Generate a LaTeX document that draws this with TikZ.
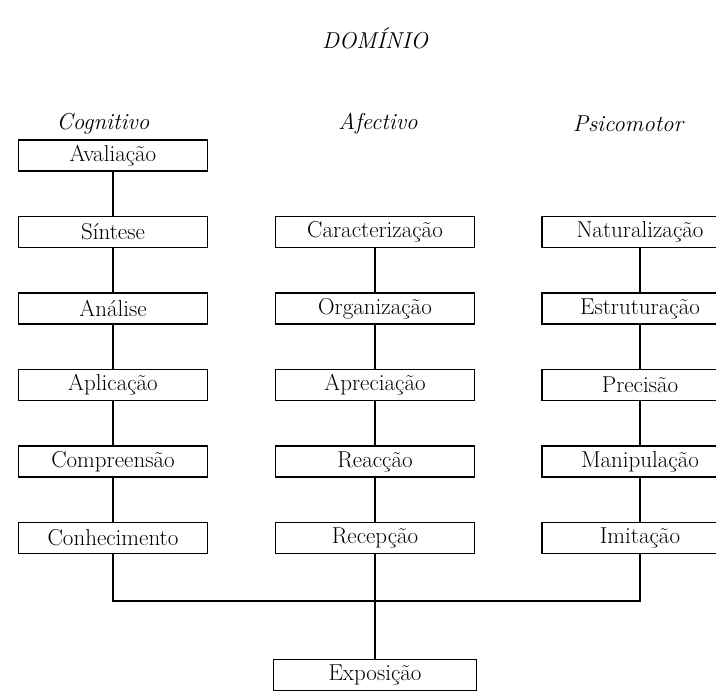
\documentclass[tikz,border=0pt]{standalone}
\usepackage{fontspec}

\tikzset{
  nivel/.style={draw, line width=1.3pt, minimum height=31pt, inner sep=0pt,
    font=\fontsize{23}{26}\selectfont},
  titulo/.style={font=\fontsize{23}{27}\selectfont\itshape},
  liga/.style={line width=1.5pt}
}

\begin{document}
\begin{tikzpicture}[x=1pt, y=-1pt]
        % area della figura (in pixel)
        \useasboundingbox (0,0) rectangle (716,691);

        % titoli
        \node[titulo] (dominio) at (375,38) {DOMÍNIO};
        \node[titulo] (cog) at (103,124) {Cognitivo};
        \node[titulo] (afe) at (378,124) {Afectivo};
        \node[titulo] (psi) at (628,124) {Psicomotor};

        % colonna cognitiva / x del centro, y di ogni livello
        \foreach \txt [count=\i] in {Avaliação, Síntese, Análise, Aplicação, Compreensão, Conhecimento}
          \node[nivel, minimum width=189pt] (c\i) at (113,79+76.5*\i) {\txt};

        % colonna affettiva
        \foreach \txt [count=\i] in {Caracterização, Organização, Apreciação, Reacção, Recepção}
          \node[nivel, minimum width=199pt] (a\i) at (375,155.5+76.5*\i) {\txt};

        % colonna psicomotoria (tagliata a destra)
        \foreach \txt [count=\i] in {Naturalização, Estruturação, Precisão, Manipulação, Imitação}
          \node[nivel, minimum width=196pt] (p\i) at (640,155.5+76.5*\i) {\txt};

        \node[nivel, minimum width=203pt] (expo) at (375,675) {Exposição};

        % linee tra i livelli
        \foreach \i [evaluate=\i as \j using int(\i+1)] in {1,...,5}
          \draw[liga] (c\i) -- (c\j);
        \foreach \i [evaluate=\i as \j using int(\i+1)] in {1,...,4}
          \draw[liga] (a\i) -- (a\j);
        \foreach \i [evaluate=\i as \j using int(\i+1)] in {1,...,4}
          \draw[liga] (p\i) -- (p\j);

        % barra in basso
        \coordinate (barra) at (375,601);
        \draw[liga] (c6) |- (barra) -| (p5);
        \draw[liga] (a5) -- (expo);
\end{tikzpicture}
\end{document}
